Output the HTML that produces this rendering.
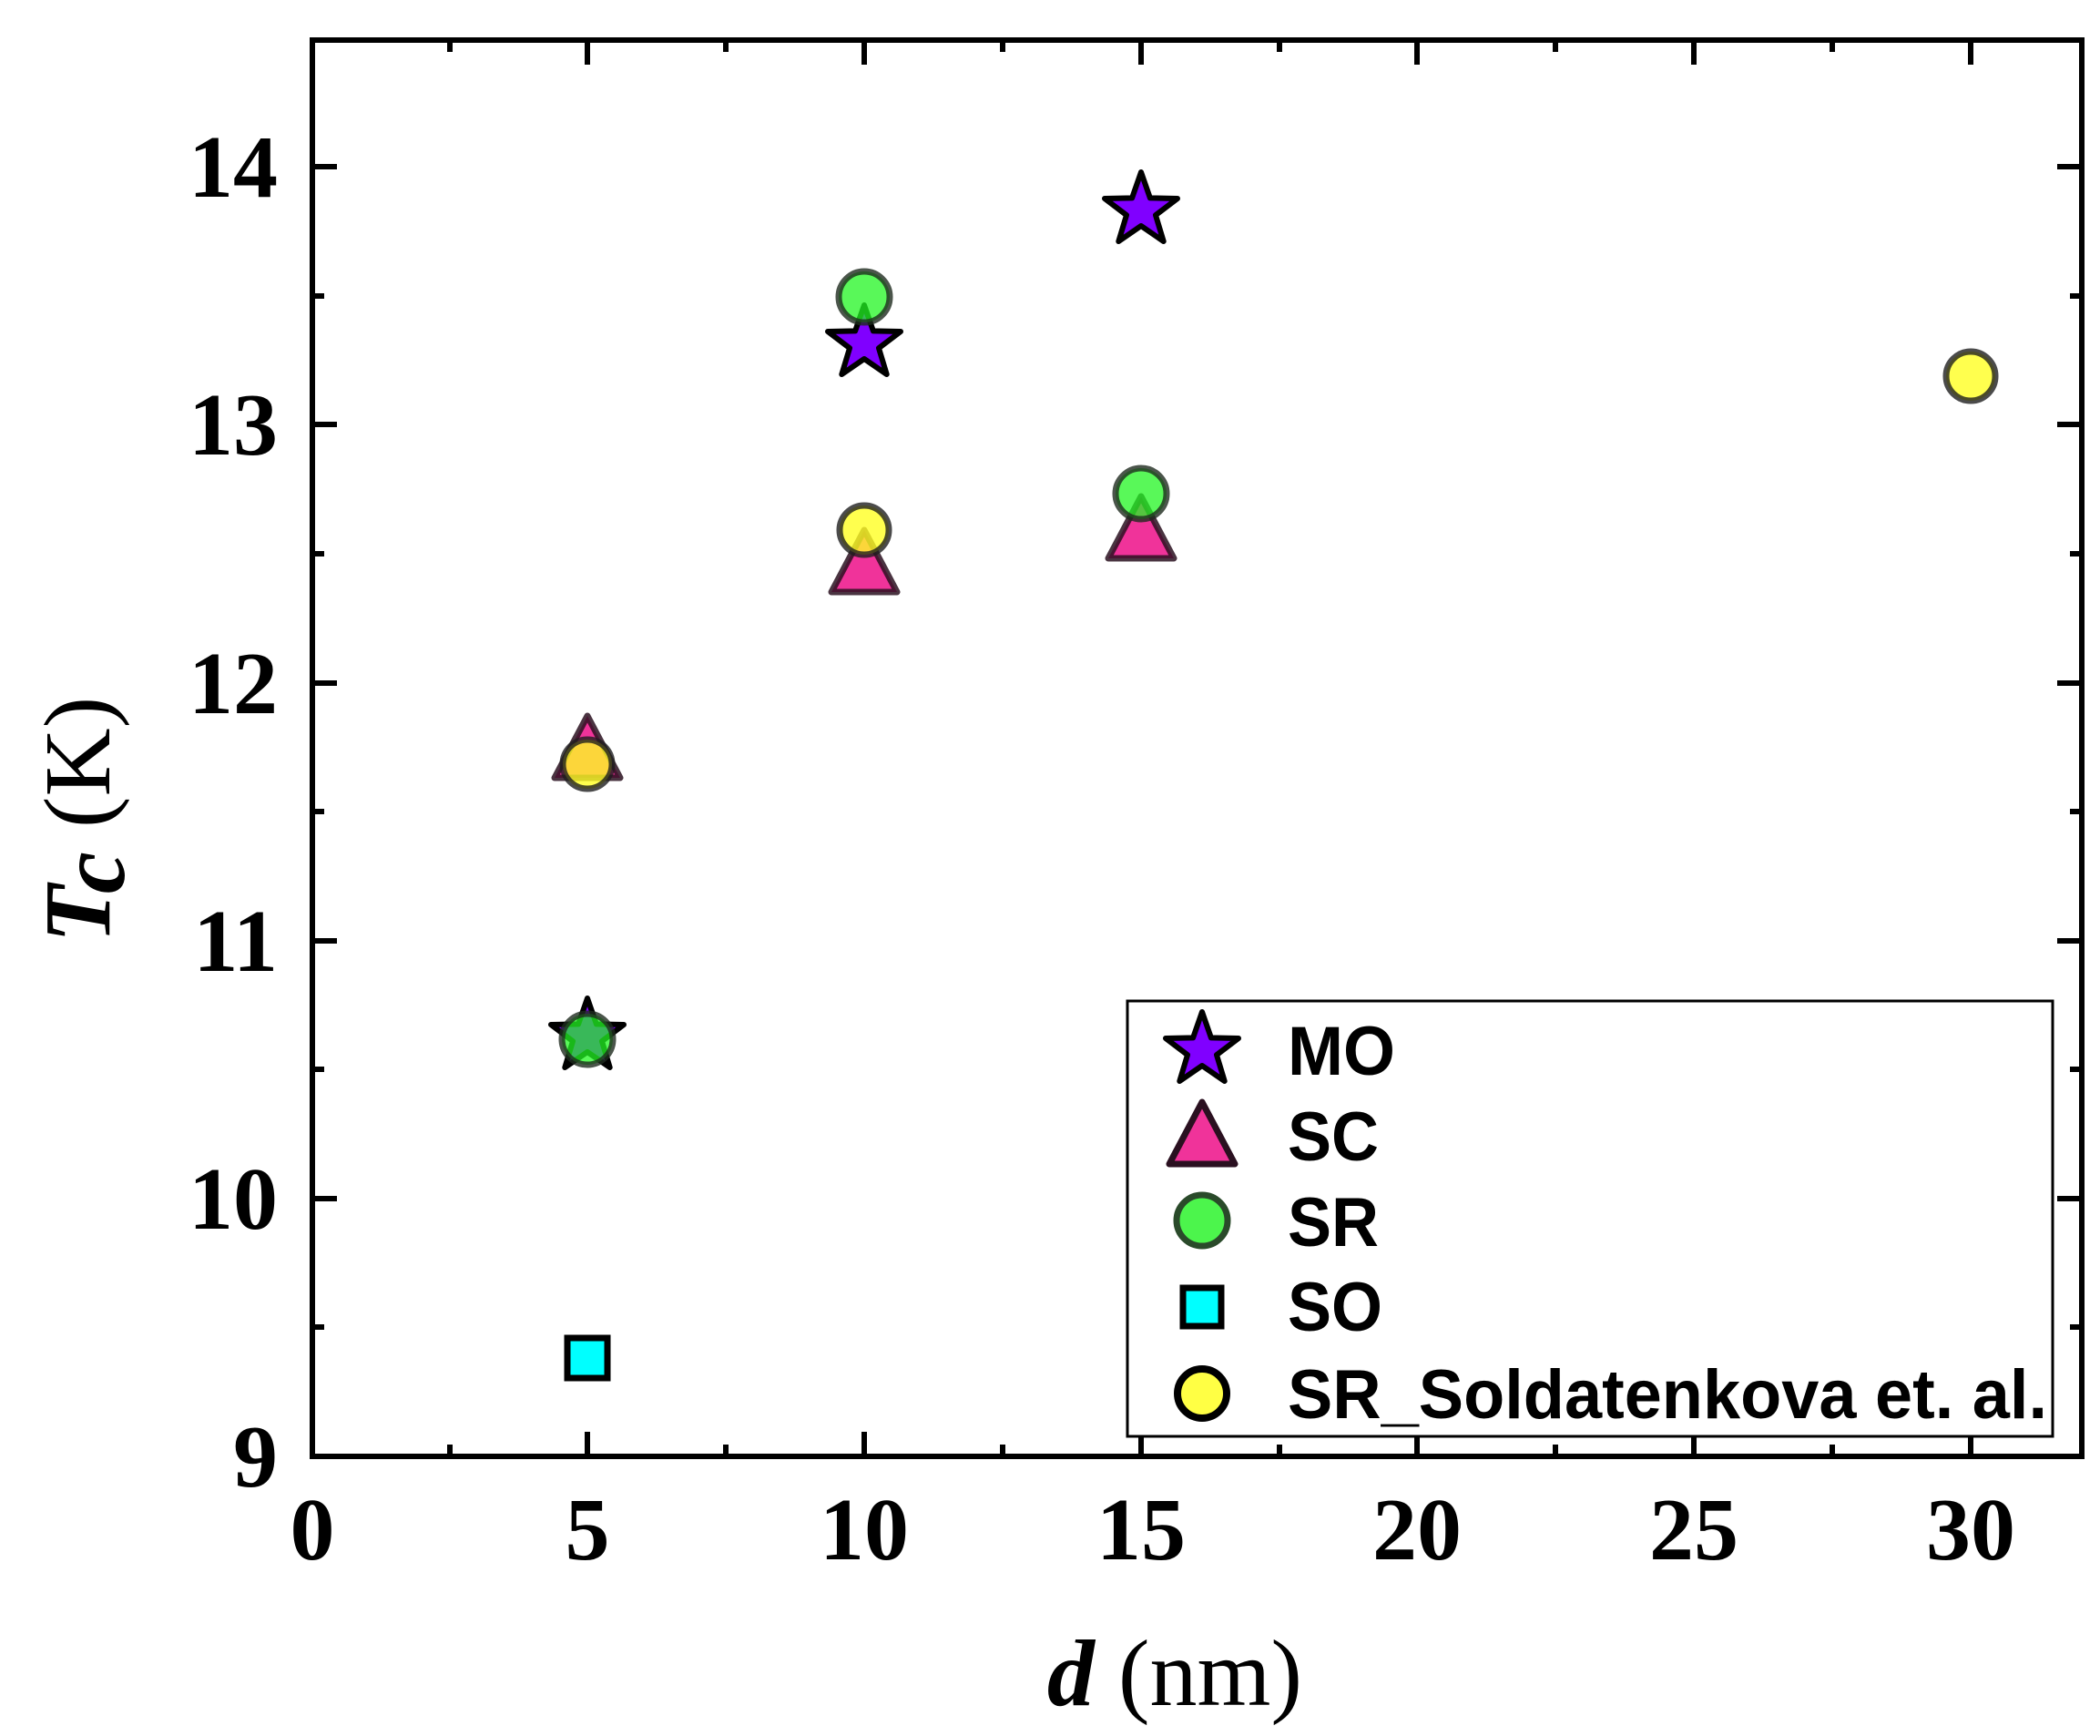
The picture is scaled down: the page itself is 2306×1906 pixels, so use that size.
<!DOCTYPE html>
<html><head><meta charset="utf-8"><style>html,body{margin:0;padding:0;background:#fff}svg{display:block}</style></head>
<body>
<svg width="2306" height="1906" viewBox="0 0 2306 1906" xmlns="http://www.w3.org/2000/svg">
<defs>
<path id="star" d="M0,-42 L9.9,-13.6 L40,-13 L16,5.2 L24.7,34 L0,17 L-24.7,34 L-16,5.2 L-40,-13 L-9.9,-13.6 Z"/>
<path id="tri" d="M0,-40 L36,28 L-36,28 Z"/>
</defs>
<g stroke="#000" stroke-width="6" stroke-linejoin="round">
<use href="#star" x="645" y="1138" fill="#8000ff"/>
<use href="#star" x="949" y="377" fill="#8000ff"/>
<use href="#star" x="1253" y="231" fill="#8000ff"/>
</g>
<g stroke="#2a1020" stroke-opacity="0.85" stroke-width="7" stroke-linejoin="round" fill="#f0339a">
<use href="#tri" x="645" y="826"/>
<use href="#tri" x="949" y="622"/>
<use href="#tri" x="1253" y="585"/>
</g>
<g stroke="#1e2a1e" stroke-opacity="0.8" stroke-width="7" fill="#22f522" fill-opacity="0.75">
<circle cx="645" cy="1141" r="28"/>
<circle cx="949" cy="326" r="28"/>
<circle cx="1253" cy="542" r="28"/>
</g>
<rect x="623" y="1469" width="44" height="44" fill="#00ffff" stroke="#000" stroke-width="7"/>
<g stroke="#1e1e1e" stroke-opacity="0.8" stroke-width="7" fill="#ffff22" fill-opacity="0.8">
<circle cx="645" cy="839" r="27"/>
<circle cx="949" cy="582" r="27"/>
<circle cx="2164" cy="413" r="27"/>
</g>
<rect x="343" y="44" width="1943" height="1555" fill="none" stroke="#000" stroke-width="6"/>
<g stroke="#000" stroke-width="6">
<path d="M645,1599v-27 M949,1599v-27 M1253,1599v-27 M1556,1599v-27 M1860,1599v-27 M2164,1599v-27
M494,1599v-13 M797,1599v-13 M1101,1599v-13 M1405,1599v-13 M1708,1599v-13 M2012,1599v-13
M645,44v27 M949,44v27 M1253,44v27 M1556,44v27 M1860,44v27 M2164,44v27
M494,44v13 M797,44v13 M1101,44v13 M1405,44v13 M1708,44v13 M2012,44v13"/>
<path d="M343,1316h27 M343,1033h27 M343,750h27 M343,466h27 M343,183h27
M343,1457h13 M343,1174h13 M343,891h13 M343,608h13 M343,325h13
M2286,1316h-27 M2286,1033h-27 M2286,750h-27 M2286,466h-27 M2286,183h-27
M2286,1457h-13 M2286,1174h-13 M2286,891h-13 M2286,608h-13 M2286,325h-13"/>
</g>
<g font-family="Liberation Serif, serif" font-weight="bold" font-size="98" fill="#000">
<g text-anchor="middle">
<text x="343" y="1712">0</text><text x="645" y="1712">5</text><text x="949" y="1712">10</text>
<text x="1253" y="1712">15</text><text x="1556" y="1712">20</text><text x="1860" y="1712">25</text><text x="2164" y="1712">30</text>
</g>
<g text-anchor="end">
<text x="305" y="1632">9</text><text x="305" y="1349">10</text><text x="305" y="1066">11</text>
<text x="305" y="783">12</text><text x="305" y="499">13</text><text x="305" y="216">14</text>
</g>
</g>
<text x="1290" y="1872" text-anchor="middle" font-family="Liberation Serif, serif" font-size="104" fill="#000"><tspan font-weight="bold" font-style="italic">d</tspan> (nm)</text>
<text transform="translate(120,900) rotate(-90)" text-anchor="middle" font-family="Liberation Serif, serif" font-size="104" fill="#000"><tspan font-weight="bold" font-style="italic">T</tspan><tspan font-weight="bold" font-style="italic" dy="16">c</tspan><tspan dy="-16"> (K)</tspan></text>
<rect x="1238" y="1099" width="1016" height="478" fill="#fff" stroke="#000" stroke-width="3"/>
<use href="#star" x="1320" y="1153" fill="#8000ff" stroke="#000" stroke-width="6" stroke-linejoin="round"/>
<use href="#tri" x="1320" y="1250" fill="#f0339a" stroke="#2a1020" stroke-width="7" stroke-linejoin="round"/>
<circle cx="1320" cy="1340" r="28" fill="#4cf54c" stroke="#2a4a2a" stroke-width="7"/>
<rect x="1299" y="1414" width="42" height="42" fill="#00ffff" stroke="#000" stroke-width="7"/>
<circle cx="1320" cy="1530" r="27" fill="#ffff44" stroke="#000" stroke-width="8"/>
<g font-family="Liberation Sans, Arial, sans-serif" font-weight="bold" font-size="76" fill="#000">
<text x="1414" y="1180" textLength="118" lengthAdjust="spacingAndGlyphs">MO</text>
<text x="1414" y="1274" textLength="100" lengthAdjust="spacingAndGlyphs">SC</text>
<text x="1414" y="1368" textLength="100" lengthAdjust="spacingAndGlyphs">SR</text>
<text x="1414" y="1461" textLength="104" lengthAdjust="spacingAndGlyphs">SO</text>
<text x="1414" y="1557" textLength="834" lengthAdjust="spacingAndGlyphs">SR_Soldatenkova et. al.</text>
</g>
</svg>
</body></html>
